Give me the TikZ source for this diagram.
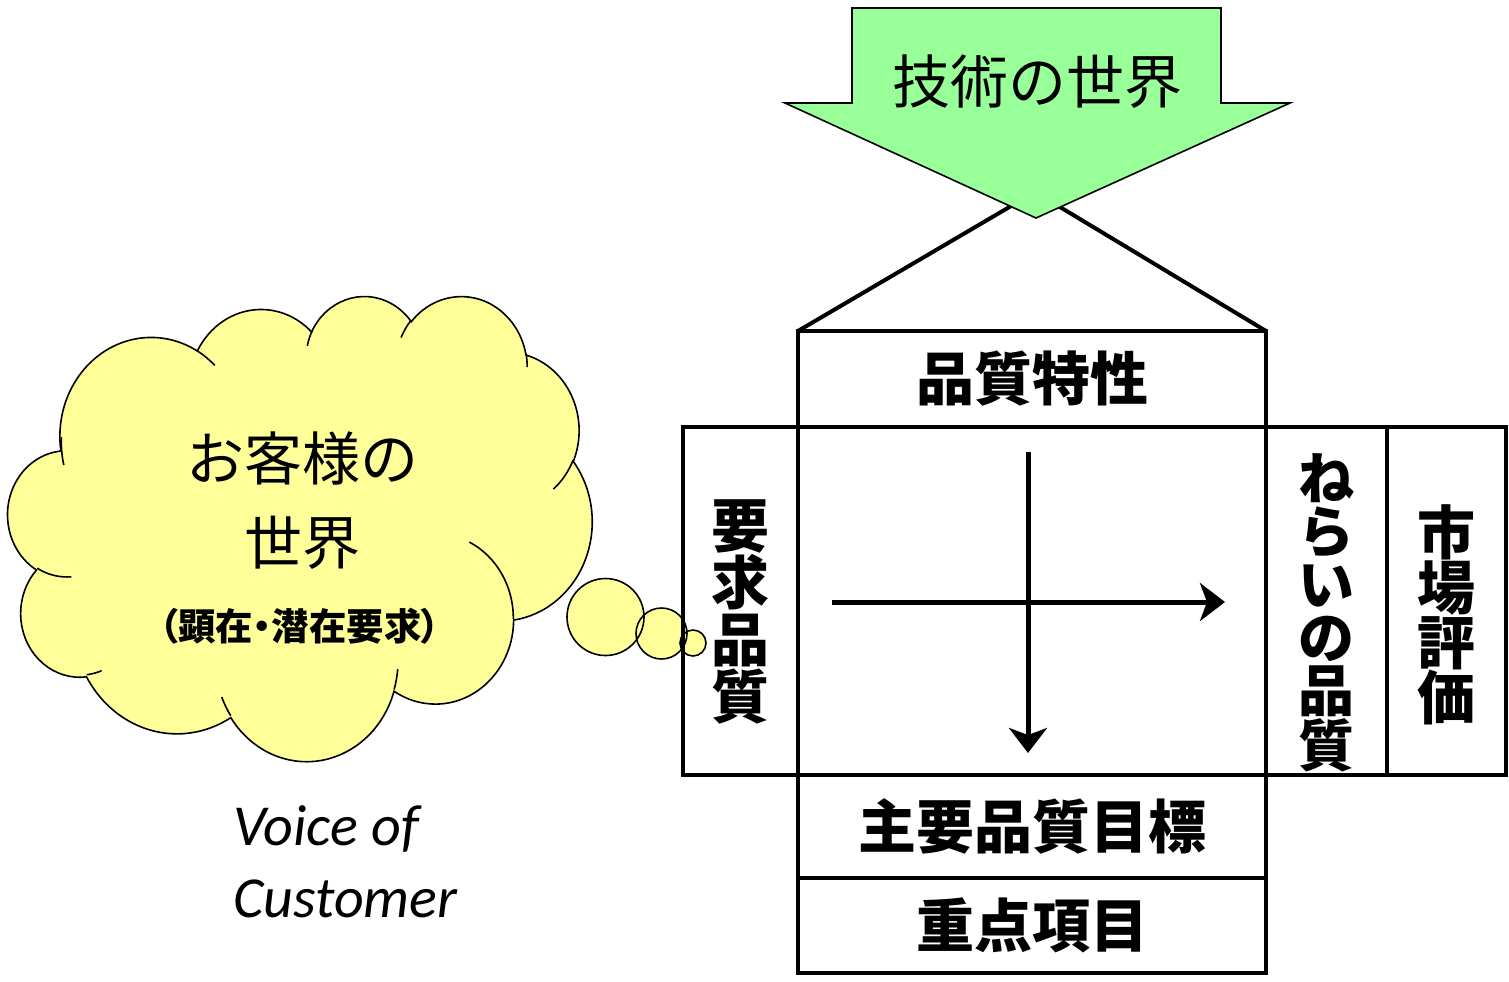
\documentclass[tikz,border=0pt]{standalone}
\usepackage{fontspec}
\setmainfont{Noto Sans CJK JP}
\newfontfamily\vocfont{Carlito}
\usepackage{tikz}
\usetikzlibrary{arrows.meta,positioning}
\definecolor{cloudyellow}{HTML}{FFFF99}
\definecolor{techgreen}{HTML}{99FF99}
\tikzstyle{box}=[draw, line width=2pt, inner sep=0pt, outer sep=0pt, font=\bfseries\fontsize{29}{34}\selectfont]
\tikzstyle{vtext}=[inner sep=0pt, align=center]
\tikzstyle{flow}=[line width=2.5pt, -{Stealth[length=12.5pt,width=19pt,inset=3.5pt]}]
\tikzstyle{roof}=[line width=2pt]
\tikzstyle{thought}=[fill=cloudyellow, draw=black, line width=0.8pt]
\tikzstyle{puffline}=[draw=black, line width=0.8pt]
\tikzstyle{techarrow}=[fill=techgreen, draw=black, line width=0.8pt]
\tikzstyle{big}=[font=\fontsize{29}{34}\selectfont]
\tikzstyle{voc}=[inner sep=0pt, anchor=base west, font=\vocfont\itshape\fontsize{29}{34}\selectfont]
% arc of an office cloud: radii, start and sweep as view angles
\newcommand\oarc[4]{arc[x radius=#1, y radius=#2,
  start angle={(#3)+mod(atan2((#1)*sin(#3),(#2)*cos(#3))-(#3)+540,360)-180},
  end angle={(#3)+(#4)+mod(atan2((#1)*sin((#3)+(#4)),(#2)*cos((#3)+(#4)))-(#3)-(#4)+540,360)-180}]}

\begin{document}
\begin{tikzpicture}
[x=0.5pt, y=-0.5pt, node distance=0pt]
\useasboundingbox (0,0) rectangle (1509,981);

% customer cloud
\begin{scope}[shift={(8,295)}, xscale=584/432, yscale=465/432]
\filldraw[thought] (39.00,143.70)
  \oarc{67.53}{91.90}{-190.4875}{123.7805}
  \oarc{53.33}{72.67}{-144.1024}{89.9452}
  \oarc{43.65}{59.45}{-145.8079}{99.7230}
  \oarc{48.57}{65.95}{-130.9861}{117.2417}
  \oarc{53.33}{72.73}{-78.7089}{109.0269}
  \oarc{67.75}{92.20}{-46.2673}{130.2690}
  \oarc{57.85}{78.67}{0.6250}{114.0333}
  \oarc{67.52}{92.15}{22.4516}{115.1726}
  \oarc{77.20}{105.43}{66.2426}{75.7110}
  \oarc{43.60}{59.18}{-274.9421}{146.7356}
  \oarc{43.45}{59.45}{-246.8285}{152.5189} -- cycle;
\draw[puffline] (46.93,261.77) \oarc{43.45}{59.45}{86.7420}{26.4295};
\draw[puffline] (69.28,348.99) \oarc{43.60}{59.18}{73.6105}{11.4475};
\draw[puffline] (164.78,390.90) \oarc{67.52}{92.15}{137.6242}{14.0811};
\draw[puffline] (288.27,347.51) \oarc{67.52}{92.15}{6.4533}{15.9984};
\draw[puffline] (341.29,229.54) \oarc{57.85}{78.67}{-70.2924}{70.9174};
\draw[puffline] (417.98,153.54) \oarc{53.33}{72.73}{30.3180}{27.7515};
\draw[puffline] (383.24,54.26) \oarc{48.57}{65.95}{-13.7443}{14.8589};
\draw[puffline] (290.78,39.52) \oarc{48.57}{65.95}{-149.1815}{18.1954};
\draw[puffline] (221.41,47.20) \oarc{43.65}{59.45}{-163.4943}{17.6864};
\draw[puffline] (140.00,51.92) \oarc{67.53}{91.90}{-66.7070}{12.3194};
\draw[puffline] (41.27,157.89) \oarc{67.53}{91.90}{162.0496}{21.8865};
\end{scope}
\fill[cloudyellow] (605.5,617) circle[radius=38.5] (661.5,633.5) circle[radius=25.5] (693,643) circle[radius=13];
\draw[puffline] (605.5,617) circle[radius=38.5] (661.5,633.5) circle[radius=25.5] (693,643) circle[radius=13];

\node[big] (cust) at (302,458) {お客様の};
\node[big] (world) at (302,543) {世界};
\node[font=\bfseries\fontsize{18.7}{20}\selectfont\addfontfeatures{RawFeature=+palt}] (needs) at (300,626) {（顕在・潜在要求）};
\node[voc] (voc1) at (233,845) {Voice of};
\node[voc] (voc2) at (233,917) {Customer};

% house of quality
\node[box, minimum width=234pt, minimum height=174pt] (mat) at (1032,601) {};
\node[box, minimum width=234pt, minimum height=48pt] (qc) [above=of mat] {品質特性};
\node[box, minimum width=57.5pt, minimum height=174pt] (req) [left=of mat] {};
\node[box, minimum width=60.5pt, minimum height=174pt] (aim) [right=of mat] {};
\node[box, minimum width=59.5pt, minimum height=174pt] (mkt) [right=of aim] {};
\node[box, minimum width=234pt, minimum height=51.5pt] (tgt) [below=of mat] {主要品質目標};
\node[box, minimum width=234pt, minimum height=47.5pt] (key) [below=of tgt] {重点項目};
\node[vtext, font=\bfseries\fontsize{29}{28.5}\selectfont] (reqtxt) at ([yshift=-5.5pt]req.center) {要\\求\\品\\質};
\node[vtext, font=\bfseries\fontsize{28}{26.5}\selectfont] (aimtxt) at ([yshift=-6pt]aim.center) {ね\\ら\\い\\の\\品\\質};
\node[vtext, font=\bfseries\fontsize{29}{27.5}\selectfont] (mkttxt) at ([yshift=-7pt]mkt.center) {市\\場\\評\\価};

\coordinate (apex) at (1035,192);
\draw[roof] (qc.north west) -- (apex) -- (qc.north east);

\coordinate (h0) at (832,602);
\coordinate (h1) at (1225,602);
\coordinate (v0) at (1028,452);
\coordinate (v1) at (1028,753);
\draw[flow] (h0) -- (h1);
\draw[flow] (v0) -- (v1);

% technology arrow
\filldraw[techarrow] (852,8) -- (1221,8) -- (1221,103) -- (1290,103) -- (1036,218) -- (785,103) -- (852,103) -- cycle;
\node[big] (tech) at (1037,82) {技術の世界};
\end{tikzpicture}
\end{document}
